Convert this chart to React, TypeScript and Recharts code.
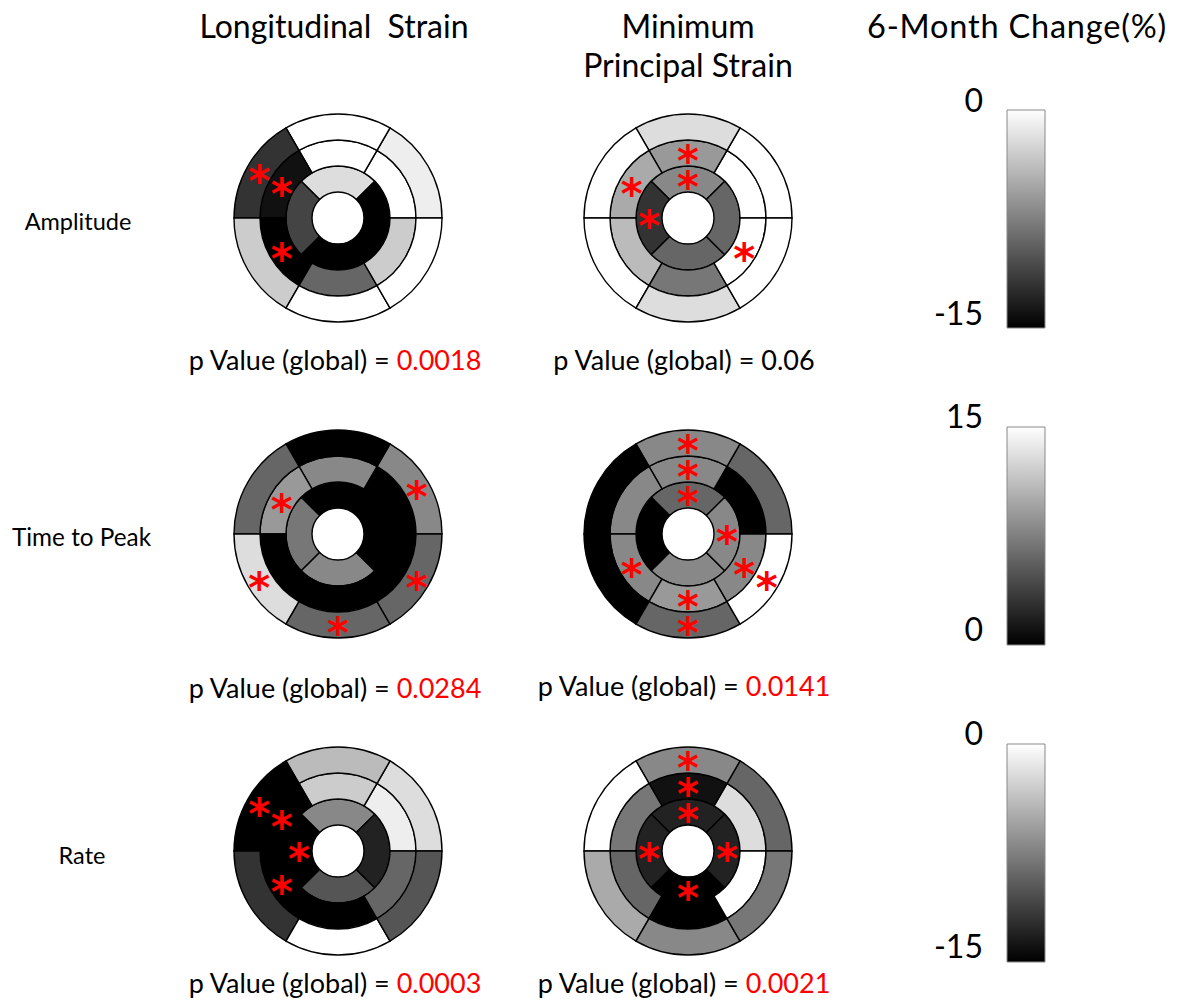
import React from 'react';
import { PieChart, Pie, Cell, BarChart, Bar, XAxis, YAxis } from 'recharts';

// AHA segments, basal/mid counter-clockwise from 0deg (3 o'clock), apical from 45deg
const ring6 = ['Anterolateral', 'Anterior', 'Anteroseptal', 'Inferoseptal', 'Inferior', 'Inferolateral'];
const ring4 = ['Anterior', 'Septal', 'Inferior', 'Lateral'];

// 6-month change (%) - Amplitude
const ampLsBasal = [-1, 0, -12, -3, 0, 0];
const ampLsMid = [0, 0, -14, -15, -9, -3];
const ampLsApical = [-2, -11, -15, -15];
const ampLsStars = ['b2', 'm2', 'm3'];

const ampMpsBasal = [0, -2, 0, 0, -2, 0];
const ampMpsMid = [0, -6, -5, -4, -8, 0];
const ampMpsApical = [-7, -12, -9, -9];
const ampMpsStars = ['m1', 'm2', 'm5', 'a0', 'a1'];

// Time to peak
const ttpLsBasal = [8, 0, 6, 13, 6, 6];
const ttpLsMid = [0, 8, 9, 0, 0, 0];
const ttpLsApical = [0, 7, 8, 0];
const ttpLsStars = ['b0', 'b3', 'b4', 'b5', 'm2'];

const ttpMpsBasal = [6, 8, 0, 0, 6, 15];
const ttpMpsMid = [0, 8, 8, 8, 9, 8];
const ttpMpsApical = [6, 0, 8, 8];
const ttpMpsStars = ['b1', 'b4', 'b5', 'm1', 'm3', 'm4', 'm5', 'a0', 'a3'];

// Rate
const rateLsBasal = [-2, -4, -15, -12, 0, -10];
const rateLsMid = [-1, -3, -15, -15, -15, -9];
const rateLsApical = [-7, -15, -10, -13];
const rateLsStars = ['b2', 'm2', 'm3', 'a1'];

const rateMpsBasal = [-9, -7, 0, -5, -7, -8];
const rateMpsMid = [-2, -14, -8, -9, -15, 0];
const rateMpsApical = [-13, -13, -15, -13];
const rateMpsStars = ['b1', 'm1', 'a0', 'a1', 'a2', 'a3'];

// colour scales
const ampRange = [-15, 0];
const ttpRange = [0, 15];
const ampTicks = [-10, -5];
const ttpTicks = [5, 10];

const pValues = ['0.0018', '0.06', '0.0284', '0.0141', '0.0003', '0.0021'];

const FONT = 'Lato, sans-serif';
const HALF = 132;

const grey = (v: number, range: number[]) => {
  const t = Math.max(0, Math.min(1, (v - range[0]) / (range[1] - range[0])));
  const g = Math.round(255 * t);
  return `rgb(${g},${g},${g})`;
};

const ringData = (names: string[], vals: number[], stars: string[], key: string) =>
  names.map((name, i) => ({ name, size: 1, change: vals[i], star: stars.includes(key + i) }));

const renderStar = (p: any) => {
  const star = p.star ?? p.payload?.star;
  if (!star) return null;
  const RAD = Math.PI / 180;
  const r = (p.innerRadius + p.outerRadius) / 2;
  const x = p.cx + r * Math.cos(-p.midAngle * RAD);
  const y = p.cy + r * Math.sin(-p.midAngle * RAD);
  return (
    <text x={x} y={y + 23} textAnchor="middle" fill="#ff0000" fontSize={42} fontWeight="bold" fontFamily="DejaVu Sans">
      *
    </text>
  );
};

const Bullseye = ({ basal, mid, apical, stars, range, cx, cy }: any) => {
  const rings = [
    { key: 'a', data: ringData(ring4, apical, stars, 'a'), inner: 26, outer: 52, start: 45 },
    { key: 'm', data: ringData(ring6, mid, stars, 'm'), inner: 52, outer: 78, start: 0 },
    { key: 'b', data: ringData(ring6, basal, stars, 'b'), inner: 78, outer: 104, start: 0 },
  ];
  return (
    <div style={{ position: 'absolute', left: cx - HALF, top: cy - HALF }}>
      <PieChart width={HALF * 2} height={HALF * 2} margin={{ top: 0, right: 0, bottom: 0, left: 0 }}>
        {rings.map((rg) => (
          <Pie
            key={rg.key}
            data={rg.data}
            dataKey="size"
            nameKey="name"
            cx={HALF}
            cy={HALF}
            innerRadius={rg.inner}
            outerRadius={rg.outer}
            startAngle={rg.start}
            endAngle={rg.start + 360}
            stroke="#000"
            strokeWidth={1.4}
            label={renderStar}
            labelLine={false}
            isAnimationActive={false}
          >
            {rg.data.map((d, i) => (
              <Cell key={i} fill={grey(d.change, range)} />
            ))}
          </Pie>
        ))}
      </PieChart>
    </div>
  );
};

const ColorBar = ({ range, ticks, top, id }: any) => (
  <div style={{ position: 'absolute', left: 1005.7, top }}>
    <BarChart
      width={40}
      height={220}
      data={[{ name: 'scale', span: range }]}
      margin={{ top: 1, right: 1, bottom: 1, left: 1 }}
      barCategoryGap={0}
    >
      <defs>
        <linearGradient id={id} x1="0" y1="0" x2="0" y2="1">
          <stop offset="0%" stopColor="#ffffff" />
          <stop offset="100%" stopColor="#000000" />
        </linearGradient>
      </defs>
      <XAxis dataKey="name" hide />
      <YAxis
        type="number"
        domain={range}
        ticks={ticks}
        orientation="right"
        mirror
        axisLine={false}
        tick={false}
        tickSize={4}
        tickLine={{ stroke: '#555' }}
      />
      <Bar dataKey="span" fill={`url(#${id})`} stroke="#888" strokeWidth={1} isAnimationActive={false} />
    </BarChart>
  </div>
);

const PText = ({ x, y, val, sig }: any) => (
  <text x={x} y={y} textAnchor="middle" fontSize={27} fontFamily={FONT} fill="#000">
    p Value (global) = <tspan fill={sig ? '#ff0000' : '#000'}>{val}</tspan>
  </text>
);

export default function App() {
  return (
    <div style={{ position: 'absolute', left: 0, top: 0, width: 1182, height: 1006, background: '#fff' }}>
      <svg width={1182} height={1006} style={{ position: 'absolute', left: 0, top: 0 }}>
        <g fontFamily={FONT} fill="#000">
          <text x={334} y={38} textAnchor="middle" fontSize={32} xmlSpace="preserve" style={{ whiteSpace: 'pre' }}>
            {'Longitudinal  Strain'}
          </text>
          <text x={688} y={38} textAnchor="middle" fontSize={32}>Minimum</text>
          <text x={688} y={77} textAnchor="middle" fontSize={32}>Principal Strain</text>
          <text x={1017} y={38} textAnchor="middle" fontSize={32.5} letterSpacing={0.8}>6-Month Change(%)</text>

          <text x={78} y={230} textAnchor="middle" fontSize={23.5}>Amplitude</text>
          <text x={81.5} y={546} textAnchor="middle" fontSize={24.3}>Time to Peak</text>
          <text x={82} y={864} textAnchor="middle" fontSize={23.5}>Rate</text>

          <text x={983} y={112} textAnchor="end" fontSize={32}>{ampRange[1]}</text>
          <text x={983} y={325} textAnchor="end" fontSize={32}>{ampRange[0]}</text>
          <text x={983} y={428} textAnchor="end" fontSize={32}>{ttpRange[1]}</text>
          <text x={983} y={641} textAnchor="end" fontSize={32}>{ttpRange[0]}</text>
          <text x={983} y={745} textAnchor="end" fontSize={32}>{ampRange[1]}</text>
          <text x={983} y={958} textAnchor="end" fontSize={32}>{ampRange[0]}</text>
        </g>
        <PText x={335} y={370} val={pValues[0]} sig />
        <PText x={684} y={370} val={pValues[1]} sig={false} />
        <PText x={335} y={698} val={pValues[2]} sig />
        <PText x={684} y={696} val={pValues[3]} sig />
        <PText x={335} y={993} val={pValues[4]} sig />
        <PText x={684} y={993} val={pValues[5]} sig />
      </svg>

      <Bullseye basal={ampLsBasal} mid={ampLsMid} apical={ampLsApical} stars={ampLsStars} range={ampRange} cx={338} cy={218} />
      <Bullseye basal={ampMpsBasal} mid={ampMpsMid} apical={ampMpsApical} stars={ampMpsStars} range={ampRange} cx={688} cy={218} />
      <Bullseye basal={ttpLsBasal} mid={ttpLsMid} apical={ttpLsApical} stars={ttpLsStars} range={ttpRange} cx={338} cy={534} />
      <Bullseye basal={ttpMpsBasal} mid={ttpMpsMid} apical={ttpMpsApical} stars={ttpMpsStars} range={ttpRange} cx={688} cy={534} />
      <Bullseye basal={rateLsBasal} mid={rateLsMid} apical={rateLsApical} stars={rateLsStars} range={ampRange} cx={338} cy={851} />
      <Bullseye basal={rateMpsBasal} mid={rateMpsMid} apical={rateMpsApical} stars={rateMpsStars} range={ampRange} cx={688} cy={851} />

      <ColorBar range={ampRange} ticks={ampTicks} top={109} id="cb1" />
      <ColorBar range={ttpRange} ticks={ttpTicks} top={426} id="cb2" />
      <ColorBar range={ampRange} ticks={ampTicks} top={743} id="cb3" />
    </div>
  );
}
